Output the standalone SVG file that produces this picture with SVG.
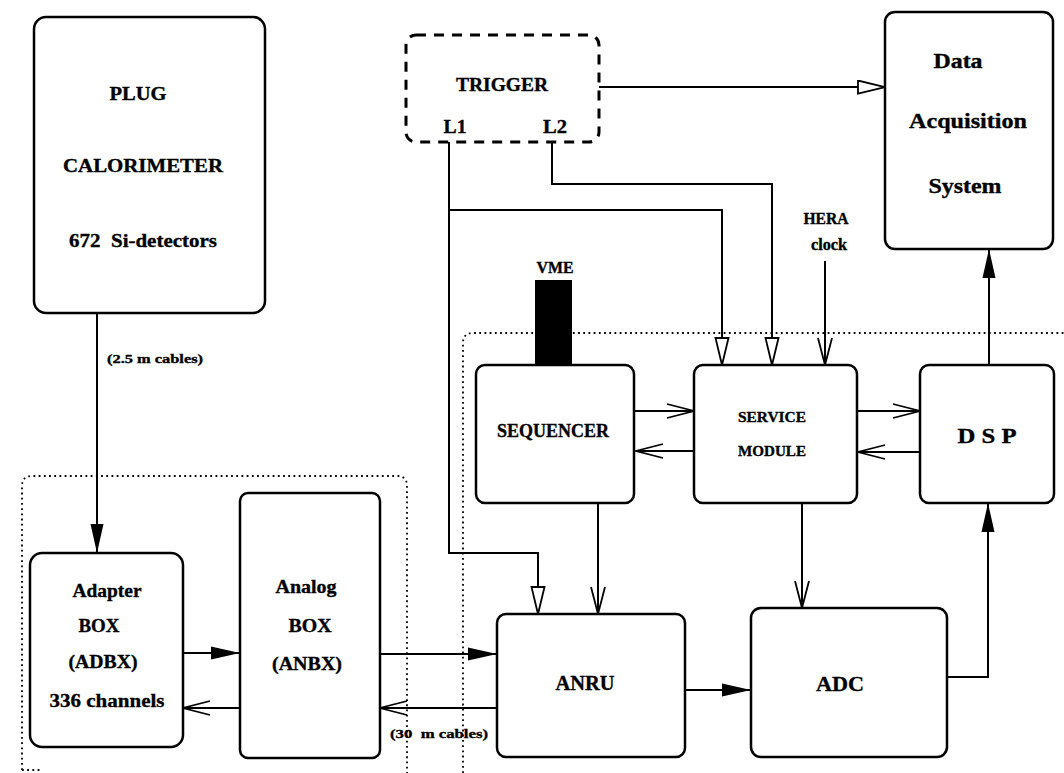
<svg xmlns="http://www.w3.org/2000/svg" width="1064" height="773" viewBox="0 0 1064 773">
<style>
.box{fill:#fff;stroke:#000;stroke-width:2.5}
.dot{fill:none;stroke:#000;stroke-width:1.8;stroke-dasharray:1.8 3.4}
.c{fill:none;stroke:#000;stroke-width:2}
.t{font-family:'Liberation Serif','Times New Roman',serif;font-weight:bold;fill:#000;stroke:#000;stroke-width:0.35;text-anchor:middle}
</style>
<defs>
<marker id="fill" markerUnits="userSpaceOnUse" markerWidth="32" markerHeight="16" refX="29" refY="7.5" orient="auto"><path d="M0,1 L29,7.5 L0,14 z" fill="#000"/></marker>
<marker id="tri" markerUnits="userSpaceOnUse" markerWidth="32" markerHeight="16" refX="28" refY="7.5" orient="auto"><path d="M1,1 L28,7.5 L1,14 z" fill="#fff" stroke="#000" stroke-width="1.8"/></marker>
<marker id="vee" markerUnits="userSpaceOnUse" markerWidth="32" markerHeight="18" refX="28" refY="8" orient="auto"><path d="M1,1 L28,8 L1,15" fill="none" stroke="#000" stroke-width="1.8"/></marker>
</defs>
<rect width="1064" height="773" fill="#fff"/>
<g id="groups">
<path class="dot" d="M22,770 V486 Q22,476 32,476 H397 Q407,476 407,486 V773"/>
<path class="dot" d="M22,770 H42"/>
<path class="dot" d="M463,773 V343 Q463,333 473,333 H1064"/>
</g>
<g id="connectors">
<path class="c" d="M97,313 V553" marker-end="url(#fill)"/>
<path class="c" d="M183,653 H240" marker-end="url(#fill)"/>
<path class="c" d="M240,708 H183" marker-end="url(#vee)"/>
<path class="c" d="M380,654 H497" marker-end="url(#fill)"/>
<path class="c" d="M497,708 H380" marker-end="url(#vee)"/>
<path class="c" d="M685,690 H751" marker-end="url(#fill)"/>
<path class="c" d="M947,677 H988 V503" marker-end="url(#fill)"/>
<path class="c" d="M989,365 V249" marker-end="url(#fill)"/>
<path class="c" d="M599,87 H885" marker-end="url(#tri)"/>
<path class="c" d="M449,142 V553 H538 V614" marker-end="url(#tri)"/>
<path class="c" d="M449,210 H722 V365" marker-end="url(#tri)"/>
<path class="c" d="M552,142 V184 H772 V365" marker-end="url(#tri)"/>
<path class="c" d="M825,261 V365" marker-end="url(#vee)"/>
<path class="c" d="M634,411 H694" marker-end="url(#vee)"/>
<path class="c" d="M694,451 H636" marker-end="url(#vee)"/>
<path class="c" d="M857,411 H920" marker-end="url(#vee)"/>
<path class="c" d="M920,452 H858" marker-end="url(#vee)"/>
<path class="c" d="M598,503 V614" marker-end="url(#vee)"/>
<path class="c" d="M802,503 V608" marker-end="url(#vee)"/>
</g>
<g id="plug">
<rect class="box" x="34" y="17" width="231" height="296" rx="12"/>
<text class="t" x="138" y="100" font-size="19.5" textLength="57" lengthAdjust="spacingAndGlyphs">PLUG</text>
<text class="t" x="143" y="172" font-size="19.5" textLength="160" lengthAdjust="spacingAndGlyphs">CALORIMETER</text>
<text class="t" x="143" y="247" font-size="19.5" textLength="148" lengthAdjust="spacingAndGlyphs" xml:space="preserve">672  Si-detectors</text>
</g>
<g id="cable-labels">
<text class="t" x="155" y="363" font-size="13.5" textLength="96" lengthAdjust="spacingAndGlyphs">(2.5 m cables)</text>
<text class="t" x="439" y="738" font-size="13.5" textLength="98" lengthAdjust="spacingAndGlyphs" xml:space="preserve">(30  m cables)</text>
</g>
<g id="trigger">
<rect x="406" y="35" width="193" height="107" rx="10" fill="none" stroke="#000" stroke-width="3" stroke-dasharray="10 8"/>
<text class="t" x="502" y="91" font-size="19" textLength="92" lengthAdjust="spacingAndGlyphs">TRIGGER</text>
<text class="t" x="455" y="133" font-size="19" textLength="23" lengthAdjust="spacingAndGlyphs">L1</text>
<text class="t" x="555" y="133" font-size="19" textLength="24" lengthAdjust="spacingAndGlyphs">L2</text>
</g>
<g id="daq">
<rect class="box" x="885" y="12" width="168" height="237" rx="10" stroke-width="3"/>
<text class="t" x="958" y="68" font-size="22" textLength="49" lengthAdjust="spacingAndGlyphs">Data</text>
<text class="t" x="968" y="128" font-size="22" textLength="118" lengthAdjust="spacingAndGlyphs">Acquisition</text>
<text class="t" x="965" y="193" font-size="22" textLength="73" lengthAdjust="spacingAndGlyphs">System</text>
</g>
<g id="hera">
<text class="t" x="826" y="224" font-size="16" textLength="45" lengthAdjust="spacingAndGlyphs">HERA</text>
<text class="t" x="829" y="250" font-size="16" textLength="36" lengthAdjust="spacingAndGlyphs">clock</text>
</g>
<g id="vme">
<text class="t" x="555" y="273" font-size="16" textLength="37" lengthAdjust="spacingAndGlyphs">VME</text>
<rect x="535" y="280" width="37" height="85" fill="#000"/>
</g>
<g id="sequencer">
<rect class="box" x="476" y="365" width="158" height="138" rx="9"/>
<text class="t" x="553" y="437" font-size="18.5" textLength="112" lengthAdjust="spacingAndGlyphs">SEQUENCER</text>
</g>
<g id="service">
<rect class="box" x="694" y="365" width="163" height="138" rx="9"/>
<text class="t" x="772" y="422" font-size="15.5" textLength="68" lengthAdjust="spacingAndGlyphs">SERVICE</text>
<text class="t" x="772" y="456" font-size="15.5" textLength="68" lengthAdjust="spacingAndGlyphs">MODULE</text>
</g>
<g id="dsp">
<rect class="box" x="920" y="365" width="134" height="138" rx="9"/>
<text class="t" x="987" y="443" font-size="21.5" textLength="59" lengthAdjust="spacingAndGlyphs">D S P</text>
</g>
<g id="adapter">
<rect class="box" x="30" y="553" width="153" height="194" rx="12"/>
<text class="t" x="107" y="597" font-size="19.5" textLength="69" lengthAdjust="spacingAndGlyphs">Adapter</text>
<text class="t" x="99" y="632" font-size="19.5" textLength="41" lengthAdjust="spacingAndGlyphs">BOX</text>
<text class="t" x="103" y="668" font-size="19.5" textLength="69" lengthAdjust="spacingAndGlyphs">(ADBX)</text>
<text class="t" x="107" y="707" font-size="19.5" textLength="115" lengthAdjust="spacingAndGlyphs">336 channels</text>
</g>
<g id="analog">
<rect class="box" x="240" y="493" width="140" height="265" rx="8"/>
<text class="t" x="306" y="593" font-size="19.5" textLength="61" lengthAdjust="spacingAndGlyphs">Analog</text>
<text class="t" x="310" y="632" font-size="19.5" textLength="43" lengthAdjust="spacingAndGlyphs">BOX</text>
<text class="t" x="307" y="670" font-size="19.5" textLength="70" lengthAdjust="spacingAndGlyphs">(ANBX)</text>
</g>
<g id="anru">
<rect class="box" x="497" y="614" width="188" height="143" rx="9"/>
<text class="t" x="585" y="690" font-size="21" textLength="59" lengthAdjust="spacingAndGlyphs">ANRU</text>
</g>
<g id="adc">
<rect class="box" x="751" y="608" width="196" height="149" rx="10"/>
<text class="t" x="840" y="691" font-size="21" textLength="48" lengthAdjust="spacingAndGlyphs">ADC</text>
</g>
</svg>
